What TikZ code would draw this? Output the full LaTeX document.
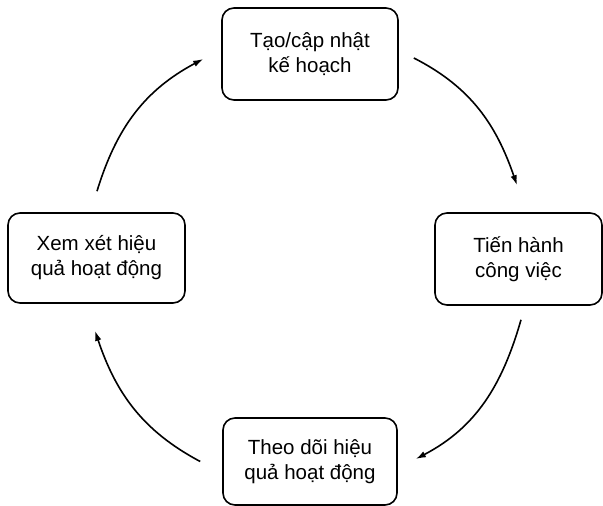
\documentclass[tikz,border=0pt]{standalone}
\usepackage{fontspec}
\setmainfont{Liberation Sans}
\usetikzlibrary{arrows.meta}
\begin{document}
\begin{tikzpicture}[x=1pt,y=1pt,
  stagebox/.style={draw, line width=1.6pt, rounded corners=12pt, inner sep=0pt, align=center,
    font=\fontsize{20.5}{25}\selectfont},
  cyc/.style={line width=1.6pt, -{Latex[length=10pt,width=6.5pt]}}]
\useasboundingbox (0,0) rectangle (603,506);
\node[stagebox, minimum width=176pt, minimum height=92pt] (top) at (310,452) {Tạo/cập nhật\\kế hoạch};
\node[stagebox, minimum width=167pt, minimum height=92pt] (right) at (518.5,247) {Tiến hành\\công việc};
\node[stagebox, minimum width=174pt, minimum height=87pt] (bottom) at (310,44.5) {Theo dõi hiệu\\quả hoạt động};
\node[stagebox, minimum width=177pt, minimum height=90pt] (left) at (96.5,248) {Xem xét hiệu\\quả hoạt động};
\draw[cyc] ([xshift=15pt,yshift=-4pt]top.east) to[out=-27,in=109] ([xshift=-1.5pt,yshift=27pt]right.north);
\draw[cyc] ([xshift=2.5pt,yshift=-14pt]right.south) to[out=-106,in=27.6] ([xshift=18pt,yshift=2.5pt]bottom.east);
\draw[cyc] ([xshift=-22pt]bottom.west) to[out=152,in=-71.5] ([xshift=-1.5pt,yshift=-27pt]left.south);
\draw[cyc] ([xshift=0.5pt,yshift=21pt]left.north) to[out=73,in=-152] ([xshift=-18pt,yshift=-5pt]top.west);
\end{tikzpicture}
\end{document}
